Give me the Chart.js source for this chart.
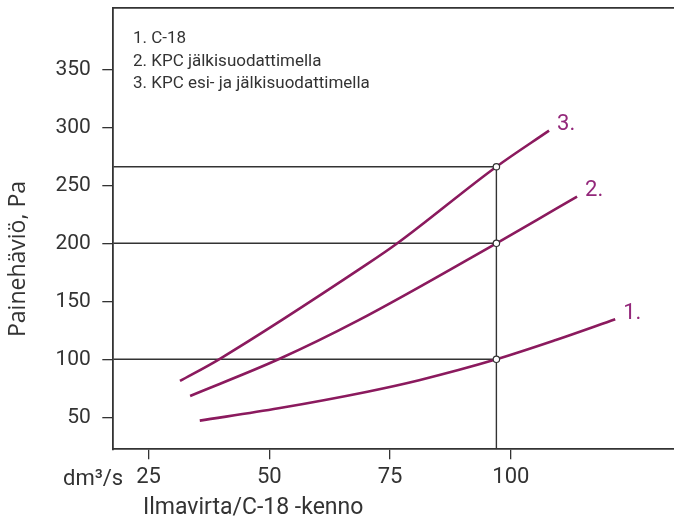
<!DOCTYPE html>
<html>
<head>
<meta charset="utf-8">
<script src="https://cdn.jsdelivr.net/npm/chart.js@4"></script>
<style>
html,body{margin:0;padding:0;background:#fff;overflow:hidden;width:674px;height:521px;}
canvas{display:block;}
</style>
</head>
<body>
<canvas id="c" width="690" height="521"></canvas>
<script>
// ---- data ----
const xTicks = [25, 50, 75, 100];
const yTicks = [50, 100, 150, 200, 250, 300, 350];
const xMin = 17.7, xMax = 136.0;
const yMin = 22.4, yMax = 403.3;

const seriesNames = ['1.', '2.', '3.'];
const legendLines = ['1. C-18', '2. KPC jälkisuodattimella', '3. KPC esi- ja jälkisuodattimella'];

const flow1 = [35.6, 51.9, 70.3, 81.0, 97.0, 109.3, 121.6];
const loss1 = [47.1, 57.8, 72.1, 82.0, 100.0, 116.6, 134.5];
const flow2 = [33.6, 51.9, 68.3, 97.0, 109.3, 113.7];
const loss2 = [68.4, 100.0, 133.3, 200.0, 229.6, 240.2];
const flow3 = [31.5, 39.6, 70.3, 76.5, 97.0, 107.9];
const loss3 = [81.3, 100.0, 182.2, 200.0, 266.0, 297.1];

const guideFlow = 97;
const guideLoss = [266, 200, 100];

const curveColor = '#8b1a5e';
const labelColor = '#93277a';
const ink = '#333333';

const toPts = (xs, ys) => xs.map((x, i) => ({x: x, y: ys[i]}));

const datasets = [];
// markers (drawn on top)
datasets.push({
  type: 'scatter',
  data: guideLoss.map(v => ({x: guideFlow, y: v})),
  pointRadius: 3.2,
  pointBackgroundColor: '#ffffff',
  pointBorderColor: ink,
  pointBorderWidth: 1.2,
  showLine: false
});
const curves = [toPts(flow1, loss1), toPts(flow2, loss2), toPts(flow3, loss3)];
curves.forEach((pts, i) => {
  datasets.push({
    type: 'line',
    label: seriesNames[i],
    data: pts,
    borderColor: curveColor,
    borderWidth: 2.6,
    pointRadius: 0,
    fill: false,
    cubicInterpolationMode: 'monotone'
  });
});
// guide lines
guideLoss.forEach((v, i) => {
  const pts = [{x: xMin, y: v}, {x: guideFlow, y: v}];
  if (i === 0) pts.push({x: guideFlow, y: yMin});
  datasets.push({
    type: 'line',
    data: pts,
    borderColor: ink,
    borderWidth: 1.4,
    pointRadius: 0,
    tension: 0,
    fill: false
  });
});

const textPlugin = {
  id: 'texts',
  afterDraw(chart) {
    const ctx = chart.ctx;
    ctx.save();
    ctx.fillStyle = ink;
    ctx.textAlign = 'left';
    ctx.textBaseline = 'alphabetic';
    ctx.font = '17px Roboto';
    legendLines.forEach((t, i) => ctx.fillText(t, 133, 43 + i * 22.5));

    ctx.font = '22px Roboto';
    ctx.fillText('dm³/s', 63, 485);
    ctx.font = '23px Roboto';
    ctx.fillText('Ilmavirta/C-18 -kenno', 143, 514);

    ctx.save();
    ctx.translate(25, 259);
    ctx.rotate(-Math.PI / 2);
    ctx.textAlign = 'center';
    ctx.textBaseline = 'alphabetic';
    ctx.font = '23px "Open Sans"';
    ctx.fillText('Painehäviö, Pa', 0, 0);
    ctx.restore();

    ctx.fillStyle = labelColor;
    ctx.font = '22px Roboto';
    ctx.textBaseline = 'middle';
    ctx.textAlign = 'left';
    for (let i = 0; i < 3; i++) {
      const meta = chart.getDatasetMeta(i + 1);
      const last = meta.data[meta.data.length - 1];
      ctx.fillText(seriesNames[i], last.x + 8, last.y - 6);
    }
    ctx.restore();
  }
};

new Chart(document.getElementById('c'), {
  data: {datasets: datasets},
  options: {
    responsive: false,
    animation: false,
    events: [],
    layout: {padding: {top: 7.5, left: 0, right: 0, bottom: 0}},
    plugins: {legend: {display: false}, tooltip: {enabled: false}, title: {display: false}},
    scales: {
      x: {
        type: 'linear',
        position: 'bottom',
        min: xMin, max: xMax,
        afterBuildTicks: s => { s.ticks = xTicks.map(v => ({value: v})); },
        afterFit: s => { s.height = 71.7; s.paddingLeft = 0; s.paddingRight = 0; },
        grid: {drawOnChartArea: false, drawTicks: true, tickLength: 10, color: ink, lineWidth: 1.3},
        border: {display: true, color: ink, width: 1.8},
        ticks: {color: ink, font: {family: 'Roboto', size: 22}, padding: 5, maxRotation: 0, autoSkip: false}
      },
      x2: {
        type: 'linear',
        position: 'top',
        min: xMin, max: xMax,
        afterBuildTicks: s => { s.ticks = []; },
        afterFit: s => { s.height = 0; s.paddingLeft = 0; s.paddingRight = 0; },
        grid: {drawOnChartArea: false, drawTicks: false},
        border: {display: true, color: ink, width: 1.8},
        ticks: {display: false}
      },
      y: {
        type: 'linear',
        position: 'left',
        min: yMin, max: yMax,
        afterBuildTicks: s => { s.ticks = yTicks.map(v => ({value: v})); },
        afterFit: s => { s.width = 113.3; s.paddingTop = 0; s.paddingBottom = 0; },
        grid: {drawOnChartArea: false, drawTicks: true, tickLength: 11, color: ink, lineWidth: 1.3},
        border: {display: true, color: ink, width: 1.8},
        ticks: {color: ink, font: {family: 'Roboto', size: 21}, padding: 11.5, autoSkip: false}
      }
    }
  },
  plugins: [textPlugin]
});
</script>
</body>
</html>
